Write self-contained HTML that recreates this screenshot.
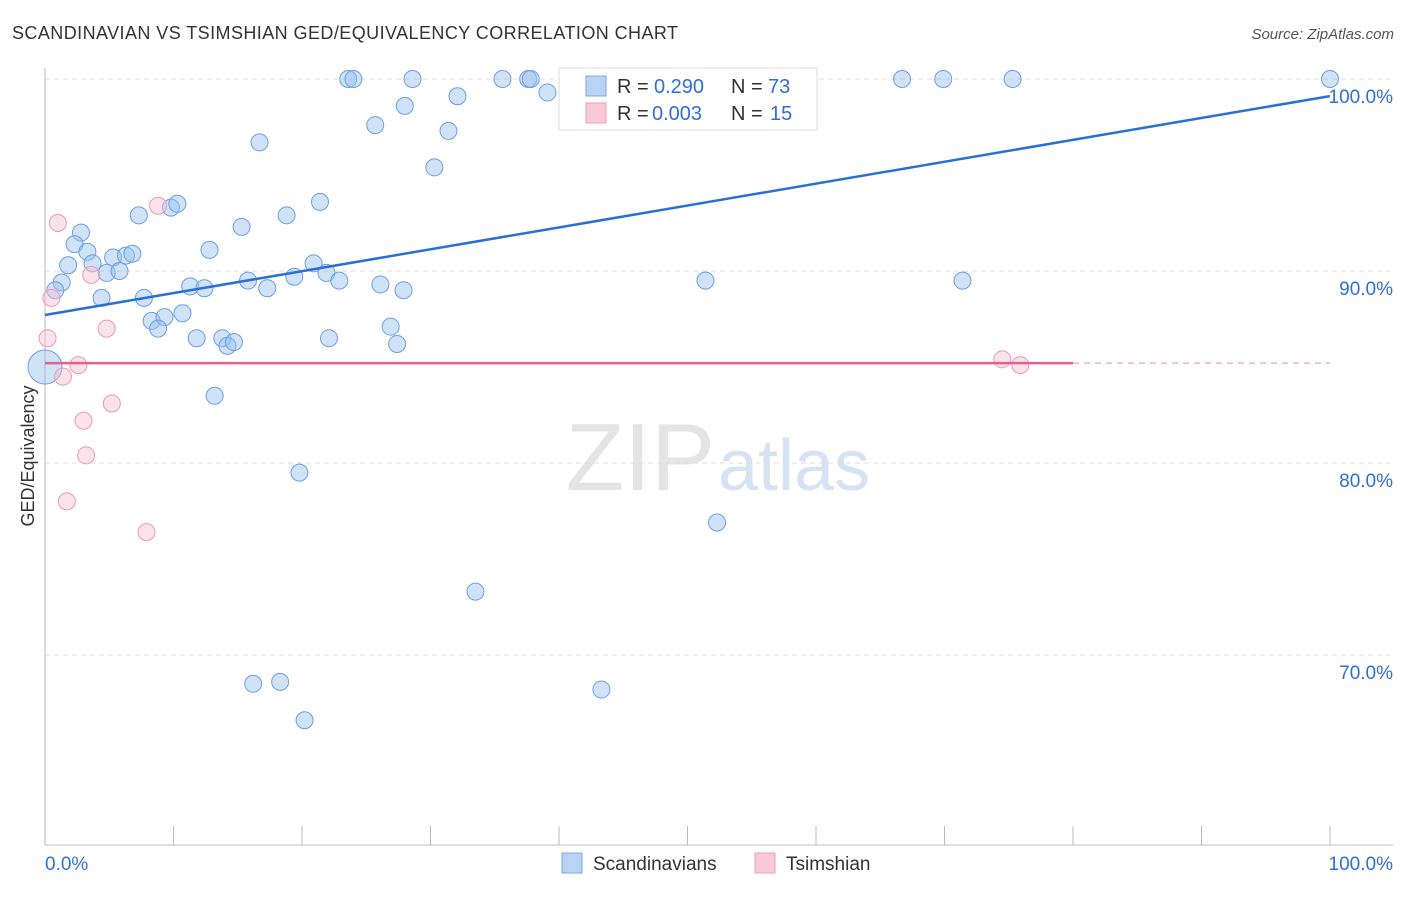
<!DOCTYPE html>
<html><head><meta charset="utf-8"><style>
body{margin:0;background:#fff;font-family:"Liberation Sans",sans-serif}
svg text{font-family:"Liberation Sans",sans-serif}
</style></head><body>
<svg id="c" width="1406" height="892">
<text x="12" y="39" font-size="18" textLength="666" fill="#333">SCANDINAVIAN VS TSIMSHIAN GED/EQUIVALENCY CORRELATION CHART</text>
<text x="1394" y="39" font-size="15" fill="#555" font-style="italic" text-anchor="end">Source: ZipAtlas.com</text>
<text x="715" y="490" font-size="96" fill="#e4e4e4" font-family="Liberation Serif" text-anchor="end">ZIP</text>
<text x="718" y="490" font-size="72" fill="#d5e3f5">atlas</text>
<text transform="translate(34,456) rotate(-90)" font-size="18" fill="#333" text-anchor="middle">GED/Equivalency</text>
<g id="grid"></g><g id="marks"></g>
<g>
<rect x="559" y="68" width="258" height="62" fill="#fff" stroke="#ddd"/>
<rect x="586" y="76" width="20" height="20" fill="#b9d3f5" stroke="#7aa6e6"/>
<rect x="586" y="103" width="20" height="20" fill="#f9c9d7" stroke="#ee9db5"/>
<text x="617" y="93" font-size="20" fill="#333">R =</text><text x="654" y="93" font-size="20" fill="#2f6fd6">0.290</text>
<text x="731" y="93" font-size="20" fill="#333">N =</text><text x="768" y="93" font-size="20" fill="#2f6fd6">73</text>
<text x="617" y="120" font-size="20" fill="#333">R =</text><text x="652" y="120" font-size="20" fill="#2f6fd6">0.003</text>
<text x="731" y="120" font-size="20" fill="#333">N =</text><text x="770" y="120" font-size="20" fill="#2f6fd6">15</text>
</g>
<g>
<rect x="562" y="853" width="20" height="20" fill="#b9d3f5" stroke="#7aa6e6"/>
<text x="593" y="870" font-size="19" fill="#333">Scandinavians</text>
<rect x="755" y="853" width="20" height="20" fill="#f9c9d7" stroke="#ee9db5"/>
<text x="786" y="870" font-size="19" fill="#333">Tsimshian</text>
</g>
<text x="45" y="870" font-size="19" fill="#2f6fd6">0.0%</text>
<text x="1393" y="870" font-size="19" fill="#2f6fd6" text-anchor="end">100.0%</text>
</svg>
<script>
const yTicks=[100,90,80,70];
const xTicks=[0,10,20,30,40,50,60,70,80,90,100];
const blueX=[23.6,24,28.6,35.6,37.6,37.8,42,47.1,48.5,66.7,69.9,75.3,100,28,32.1,39.1,25.7,31.4,16.7,30.3,7.3,9.8,10.3,21.4,18.8,15.3,2.8,2.3,12.8,3.3,5.3,6.3,6.8,1.8,3.7,4.8,5.8,1.3,0.8,20.9,21.9,22.9,19.4,15.8,11.3,12.4,17.3,26.1,27.9,51.4,71.4,4.4,7.7,10.7,8.3,9.3,8.8,11.8,13.8,14.2,14.7,22.1,26.9,27.4,13.2,19.8,52.3,33.5,16.2,18.3,43.3,20.2];
const blueY=[100,100,100,100,100,100,100,100,100,100,100,100,100,98.6,99.1,99.3,97.6,97.3,96.7,95.4,92.9,93.3,93.5,93.6,92.9,92.3,92,91.4,91.1,91,90.7,90.8,90.9,90.3,90.4,89.9,90,89.4,89,90.4,89.9,89.5,89.7,89.5,89.2,89.1,89.1,89.3,89,89.5,89.5,88.6,88.6,87.8,87.4,87.6,87,86.5,86.5,86.1,86.3,86.5,87.1,86.2,83.5,79.5,76.9,73.3,68.5,68.6,68.2,66.6];
const pinkX=[1,8.8,0.5,3.6,4.8,0.2,2.6,1.4,5.2,3,3.2,1.7,7.9,74.5,75.9];
const pinkY=[92.5,93.4,88.6,89.8,87,86.5,85.1,84.5,83.1,82.2,80.4,78,76.4,85.4,85.1];
const blueLine=[87.71,99.11];
const pinkLine=[85.2,85.2];
const X=v=>45+v*12.85, Y=v=>79+(100-v)*19.2;
const NS="http://www.w3.org/2000/svg";
const g=document.getElementById('grid'),m=document.getElementById('marks');
function mk(p,t,a){const e=document.createElementNS(NS,t);for(const k in a)e.setAttribute(k,a[k]);p.appendChild(e);return e;}
yTicks.forEach(v=>{
 const l=mk(g,'line',{x1:45,x2:1393,y1:Y(v),y2:Y(v),stroke:'#ddd','stroke-dasharray':'5,4'});
 
 
 const t=mk(g,'text',{x:1393,y:Y(v)+24,'font-size':19,fill:'#2f6fd6','text-anchor':'end'});t.textContent=v.toFixed(1)+'%';
 
 
});
mk(g,'line',{x1:45,x2:45,y1:68,y2:845,stroke:'#bbb'});
mk(g,'line',{x1:45,x2:1393,y1:845,y2:845,stroke:'#bbb'});
xTicks.forEach(v=>{const l=mk(g,'line',{x1:X(v),x2:X(v),y1:826,y2:845,stroke:'#bbb'});
 
 });
blueX.forEach((v,i)=>{const c=mk(m,'circle',{cx:X(v),cy:Y(blueY[i]),r:8.5,fill:'rgba(150,190,240,0.45)',stroke:'#6b9fe3','stroke-width':1});
 
 });
const big=mk(m,'circle',{cx:45,cy:Y(85),r:17,fill:'rgba(150,190,240,0.45)',stroke:'#6b9fe3'});


pinkX.forEach((v,i)=>{const c=mk(m,'circle',{cx:X(v),cy:Y(pinkY[i]),r:8.5,fill:'rgba(248,190,210,0.45)',stroke:'#ec9ab4','stroke-width':1});
 
 });
const bl=mk(m,'line',{x1:X(0),y1:Y(blueLine[0]),x2:X(100),y2:Y(blueLine[1]),stroke:'#2a6fd6','stroke-width':2.5});


const pl=mk(m,'line',{x1:X(0),y1:Y(pinkLine[0]),x2:X(80),y2:Y(pinkLine[0]+(pinkLine[1]-pinkLine[0])*0.8),stroke:'#e8608a','stroke-width':2.5});


const pd=mk(m,'line',{x1:X(80),y1:Y(pinkLine[0]),x2:X(100),y2:Y(pinkLine[1]),stroke:'#f0b0c4','stroke-width':1.5,'stroke-dasharray':'6,5'});


</script>
</body></html>
